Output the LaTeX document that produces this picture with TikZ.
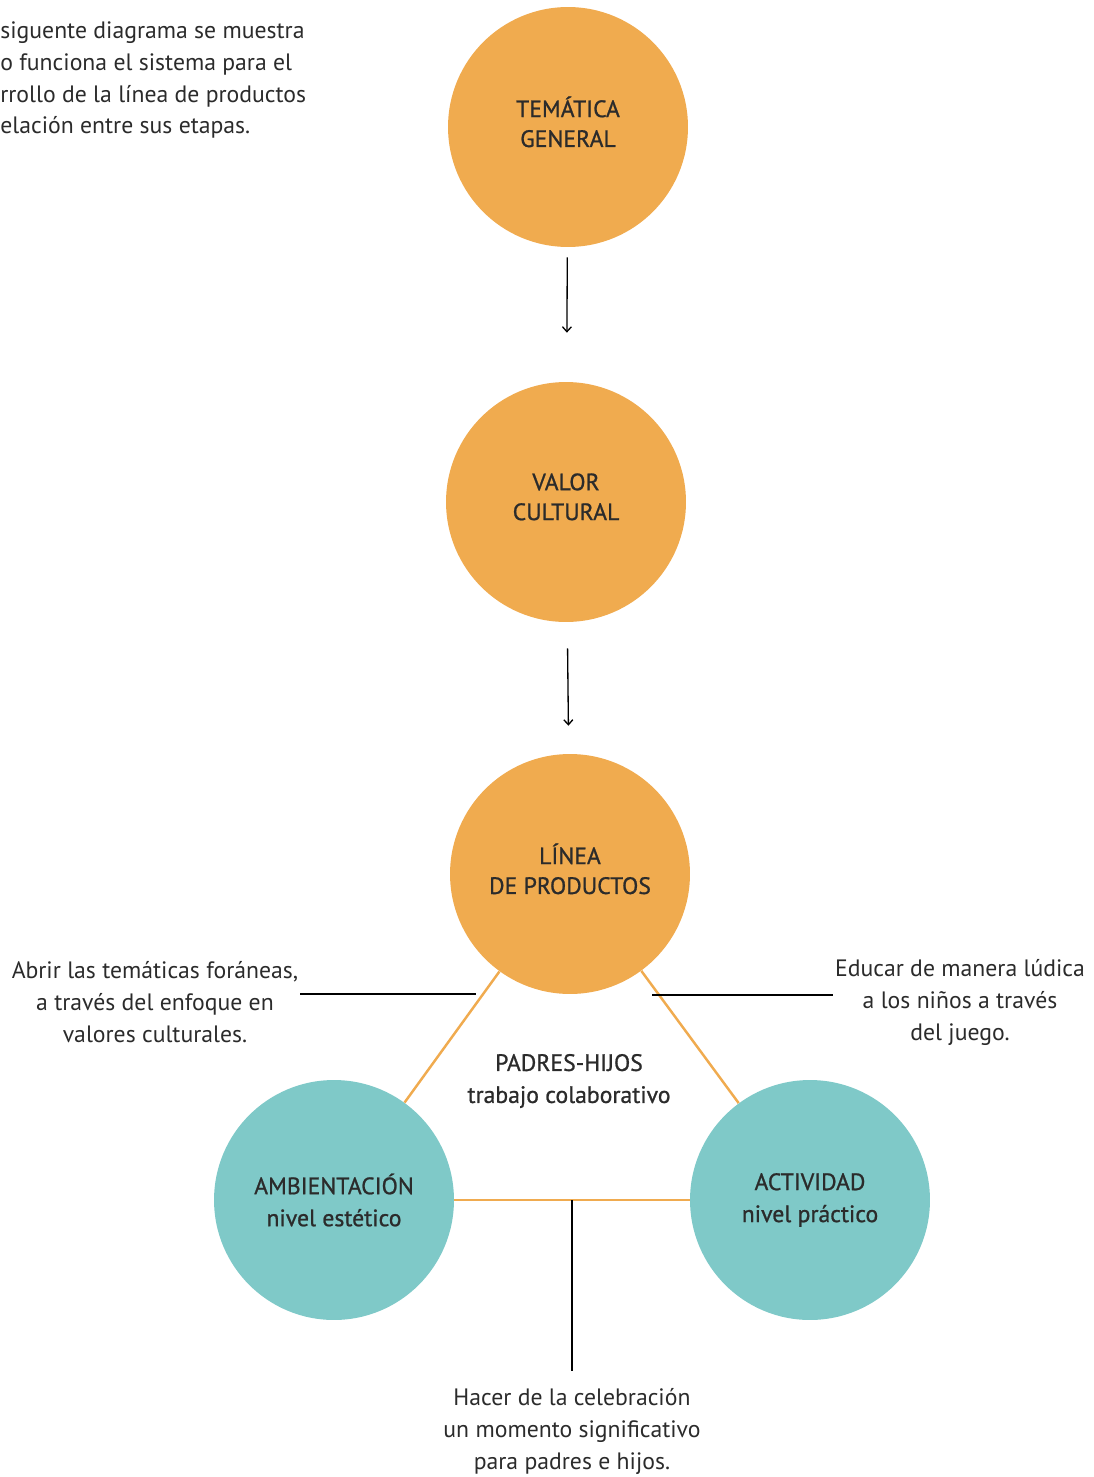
\documentclass[tikz,border=0pt]{standalone}
\usepackage{fontspec}
\setmainfont{PT Sans}
\newfontfamily\rotulo[FakeBold=0.9]{PT Sans}
\usepackage{tikz}
\usetikzlibrary{shapes,arrows.meta,positioning,calc}
\definecolor{naranja}{HTML}{F0AB4F}
\definecolor{turquesa}{HTML}{7FC9C8}
\definecolor{texto}{HTML}{2B2B2B}

\tikzset{
  etapa/.style={circle,fill=naranja,minimum size=4.8cm,inner sep=0pt,align=center,text=texto,font=\rotulo\fontsize{13.5}{17}\selectfont},
  nivel/.style={etapa,fill=turquesa,font=\rotulo\fontsize{13.5}{18.2}\selectfont},
  nota/.style={align=center,text=texto,font=\fontsize{13.5}{18.2}\selectfont},
  flecha/.style={line width=0.75pt,-{Straight Barb[length=1mm,width=1.8mm]}},
  enlace/.style={naranja,line width=1.4pt},
  guia/.style={black,line width=0.9pt}
}

\begin{document}
\begin{tikzpicture}[x=0.02cm,y=-0.02cm]
  \useasboundingbox (0,0) rectangle (1093,1477);

  % Intro text (cut at the left edge)
  \node[nota,align=left,anchor=west,inner sep=0pt] (intro) at (0,80)
    {siguente diagrama se muestra\\o funciona el sistema para el\\rrollo de la línea de productos\\elación entre sus etapas.};

  % Stages
  \node[etapa] (tem) at (568,127) {TEMÁTICA\\GENERAL\\[-11pt]};
  \node[etapa] (val) at (566,502) {VALOR\\CULTURAL\\[-11pt]};
  \node[etapa] (lin) at (570,874) {LÍNEA\\DE PRODUCTOS\\[-11pt]};

  % Arrows between stages
  \draw[flecha,shorten <=0.2cm,shorten >=0.98cm] (tem) -- (val);
  \draw[flecha,shorten <=0.52cm,shorten >=0.56cm] (val) -- (lin);

  % Levels
  \node[nivel] (amb) at (334,1200) {AMBIENTACIÓN\\nivel estético};
  \node[nivel] (act) at (810,1200) {ACTIVIDAD\\nivel práctico};
  \node[nota,font=\rotulo\fontsize{13.5}{18.2}\selectfont] (pad) at (569,1081) {PADRES-HIJOS\\trabajo colaborativo};

  % Triangle
  \draw[enlace] (lin) -- (amb);
  \draw[enlace] (lin) -- (act);
  \draw[enlace] (amb) -- coordinate (base) (act);

  % Notes and their leaders
  \node[nota] (abrir) at (155,1002) {Abrir las temáticas foráneas,\\a través del enfoque en\\valores culturales.};
  \node[nota] (educar) at (960,1002) {Educar de manera lúdica\\a los niños a través\\del juego.};
  \node[nota] (hacer) at (572,1431) {Hacer de la celebración\\un momento significativo\\para padres e hijos.};

  \coordinate (abrirfin) at (300,994);
  \coordinate (abrirlado) at (476,994);
  \coordinate (educarfin) at (833,995);
  \coordinate (educarlado) at (652,995);
  \coordinate (hacerfin) at (base |- 0,1371);

  \draw[guia] (abrirfin) -- (abrirlado);
  \draw[guia] (educarlado) -- (educarfin);
  \draw[guia] (base) -- (hacerfin);
\end{tikzpicture}
\end{document}
